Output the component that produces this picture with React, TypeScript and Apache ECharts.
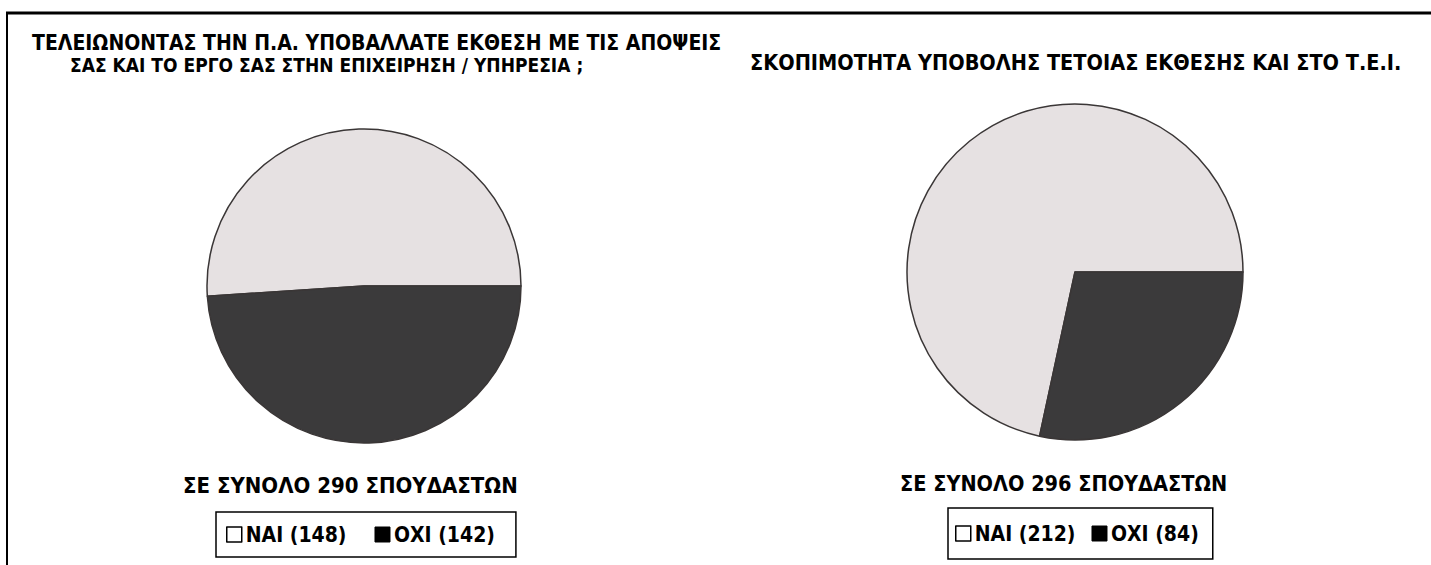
import React, { useEffect, useRef } from "react";
import * as echarts from "echarts";

const categories = ["ΝΑΙ", "ΟΧΙ"];
const leftValues = [148, 142];
const rightValues = [212, 84];
const leftTitleLines = [
  "ΤΕΛΕΙΩΝΟΝΤΑΣ ΤΗΝ Π.Α. ΥΠΟΒΑΛΛΑΤΕ ΕΚΘΕΣΗ ΜΕ ΤΙΣ ΑΠΟΨΕΙΣ",
  "ΣΑΣ ΚΑΙ ΤΟ ΕΡΓΟ ΣΑΣ ΣΤΗΝ ΕΠΙΧΕΙΡΗΣΗ / ΥΠΗΡΕΣΙΑ ;",
];
const rightTitle = "ΣΚΟΠΙΜΟΤΗΤΑ ΥΠΟΒΟΛΗΣ ΤΕΤΟΙΑΣ ΕΚΘΕΣΗΣ ΚΑΙ ΣΤΟ Τ.Ε.Ι.";
const totalPrefix = "ΣΕ ΣΥΝΟΛΟ";
const totalSuffix = "ΣΠΟΥΔΑΣΤΩΝ";

const LIGHT = "#e6e1e2";
const DARK = "#3b3a3b";
const FONT = "DejaVu Sans Condensed";

const sum = (a: number[]) => a.reduce((s, v) => s + v, 0);

export default function App() {
  const ref = useRef<HTMLDivElement>(null);
  useEffect(() => {
    const chart = echarts.init(ref.current!, null, { renderer: "svg" });
    const leftTotal = sum(leftValues);
    const rightTotal = sum(rightValues);
    const names = (vals: number[]) => categories.map((c, i) => `${c} (${vals[i]})`);
    const leftNames = names(leftValues);
    const rightNames = names(rightValues);
    const colors = [LIGHT, DARK];
    const legendIcon = [
      { color: "#ffffff", borderColor: "#000", borderWidth: 1.5 },
      { color: "#000000", borderColor: "#000", borderWidth: 1 },
    ];
    const ts = (fontSize: number) => ({
      fontFamily: FONT,
      fontWeight: "bold" as const,
      fontSize,
      color: "#000",
    });
    const mkLegend = (nm: string[], left: number, top: number, gap: number, pad: number[]) => ({
      left,
      top,
      orient: "horizontal",
      data: nm.map((n, i) => ({ name: n, itemStyle: legendIcon[i], icon: "rect" })),
      itemWidth: 15,
      itemHeight: 15,
      itemGap: gap,
      padding: pad,
      borderColor: "#000",
      borderWidth: 1.5,
      selectedMode: false,
      textStyle: { ...ts(21), padding: [0, 0, 0, -1] },
    });
    const mkPie = (nm: string[], vals: number[], center: number[], radius: number) => ({
      type: "pie",
      center,
      radius,
      clockwise: true,
      startAngle: (360 * vals[0]) / sum(vals),
      label: { show: false },
      labelLine: { show: false },
      silent: true,
      itemStyle: { borderColor: "#3a3636", borderWidth: 1.5 },
      data: nm.map((n, i) => ({ name: n, value: vals[i], itemStyle: { color: colors[i] } })),
    });
    chart.setOption({
      animation: false,
      backgroundColor: "#ffffff",
      title: [
        { text: leftTitleLines[0], left: 32, top: 32, padding: 0, textStyle: ts(21) },
        { text: leftTitleLines[1], left: 70, top: 55, padding: 0, textStyle: ts(19) },
        { text: rightTitle, left: 750, top: 51, padding: 0, textStyle: ts(21.5) },
        { text: `${totalPrefix} ${leftTotal} ${totalSuffix}`, left: 183, top: 474, padding: 0, textStyle: ts(22) },
        { text: `${totalPrefix} ${rightTotal} ${totalSuffix}`, left: 900, top: 472, padding: 0, textStyle: ts(21.5) },
      ],
      legend: [
        mkLegend(leftNames, 216, 512, 28, [12, 21, 12, 10]),
        mkLegend(rightNames, 948, 508, 16, [15, 14, 15, 7]),
      ],
      series: [
        mkPie(leftNames, leftValues, [364, 286], 157),
        mkPie(rightNames, rightValues, [1075, 272], 168),
      ],
      graphic: [
        { type: "line", shape: { x1: 6, y1: 13, x2: 1431, y2: 13 }, style: { stroke: "#000", lineWidth: 3 } },
        { type: "line", shape: { x1: 7, y1: 12, x2: 7, y2: 565 }, style: { stroke: "#000", lineWidth: 2 } },
      ],
    });
    return () => chart.dispose();
  }, []);
  return (
    <div
      ref={ref}
      style={{ position: "absolute", left: 0, top: 0, width: 1431, height: 565 }}
    />
  );
}
